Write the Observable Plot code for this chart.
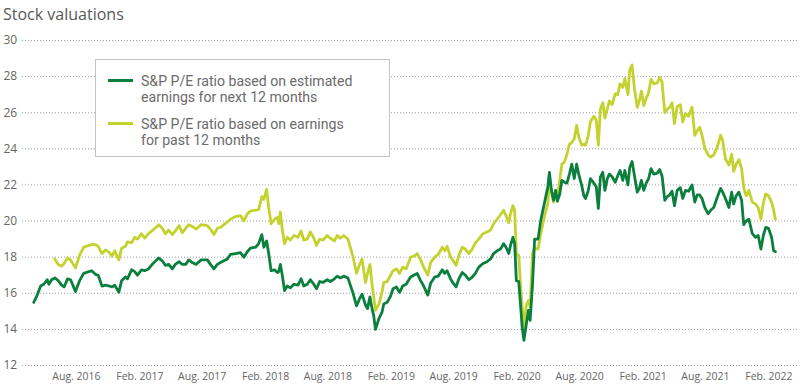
<!DOCTYPE html>
<html><head><meta charset="utf-8">
<script src="https://cdn.jsdelivr.net/npm/d3@7"></script>
<script src="https://cdn.jsdelivr.net/npm/@observablehq/plot@0.6"></script>
<style>
body{margin:0;background:#fff;font-family:"Open Sans",sans-serif;}
#chart{position:relative;width:800px;height:385px;overflow:hidden;}
#chart svg{position:absolute;left:0;top:0;}
#title{position:absolute;left:3px;top:4px;font-size:16px;line-height:20px;color:#58595b;z-index:2;}
#legend{position:absolute;left:95px;top:59px;width:295px;height:98px;box-sizing:border-box;border:1px solid #c4c4c4;background:#fff;z-index:2;}
.sw{position:absolute;left:12px;width:25px;height:3px;}
.lt{position:absolute;left:45px;height:16px;font-family:Roboto,sans-serif;font-size:14.1px;line-height:16px;color:#6b6b6b;white-space:nowrap;}
</style></head><body>
<div id="chart"><div id="title">Stock valuations</div><div id="legend"></div></div>
<script>
const dayOffsets = [89,99,109,118,128,133,141,150,160,170,177,187,196,210,222,234,249,257,268,276,287,297,309,316,324,336,344,355,361,373,382,390,402,411,422,435,452,462,471,481,491,500,511,520,530,539,549,560,575,593,602,612,
622,631,641,651,660,675,689,699,709,718,733,742,751,757,765,771,778,788,796,800,805,810,817,825,834,844,856,865,873,883,892,902,910,919,929,941,950,962,970,979,989,1001,1008,1016,1026,1035,1042,1052,1058,1065,1071,1076,1081,1091,1100,1105,1115,1125,1132,1142,1151,
1160,1170,1183,1192,1202,1212,1221,1233,1241,1253,1263,1275,1282,1289,1299,1305,1315,1323,1333,1342,1352,1362,1371,1381,1393,1405,1415,1424,1434,1444,1453,1460,1468,1473,1480,1485,1490,1497,1502,1507,1512,1519,1525,1530,1537,1543,1553,1561,1571,1581,1586,1592,1598,1604,1609,1616,1622,1629,1637,1644,1651,1658,1665,1671,1680,1686,1691,1699,1705,
1715,1722,1728,1734,1741,1747,1754,1760,1768,1777,1784,1791,1799,1805,1814,1819,1826,1833,1841,1847,1853,1860,1867,1874,1881,1889,1899,1906,1913,1921,1928,1935,1942,1949,1957,1966,1973,1981,1990,2000,2008,2015,2022,2029,2037,2047,2054,2063,2073,2083,2089,2097,2107,2115,2121,2128,2136,2144,2150,2157,2165,2175,2184,2192,2200,2207,2214,2222,2231,2237,2242];

// S&P P/E based on estimated earnings for next 12 months
const forwardPE = [15.5,15.9,16.4,16.5,16.75,16.5,16.75,16.85,16.7,16.45,16.35,16.8,16.75,16.1,16.7,17.1,17.2,17.25,17.05,17.0,16.4,16.45,16.4,16.35,16.45,16.05,16.7,16.9,16.8,17.3,17.2,17.0,17.3,17.25,17.35,17.65,17.95,17.8,17.55,17.6,17.35,17.6,17.75,17.6,17.6,17.85,17.7,17.6,17.85,17.85,17.6,17.35,
17.6,17.7,17.8,17.9,18.15,18.2,18.25,18.0,18.3,18.5,18.55,18.75,19.25,18.55,18.9,18.2,17.25,17.3,17.15,17.2,17.6,17.05,16.15,16.4,16.3,16.5,16.45,16.8,16.4,16.5,16.75,16.5,16.25,16.65,16.6,16.75,16.65,16.8,16.95,16.85,16.95,16.85,16.45,16.0,15.3,15.7,15.95,15.35,15.15,15.8,15.15,14.75,14.0,14.6,14.95,15.4,15.5,15.85,16.25,16.35,16.05,
16.4,16.5,16.9,17.0,17.1,16.7,16.4,15.9,16.55,16.9,16.95,17.3,17.1,17.25,16.8,16.6,16.35,16.8,17.15,17.0,16.75,16.9,17.1,17.45,17.65,17.75,17.9,18.2,18.35,18.45,18.75,18.55,18.2,18.65,19.1,18.75,16.7,16.65,15.4,14.1,13.4,14.3,15.05,14.5,16.5,19.0,19.0,20.05,20.95,21.85,22.7,21.7,21.15,21.7,21.1,21.5,22.25,22.15,22.1,22.6,23.15,22.35,23.15,22.6,21.95,21.4,21.25,21.7,22.35,
22.1,21.9,20.7,22.45,22.7,21.7,22.35,22.6,22.45,22.15,22.5,22.8,22.25,22.8,22.0,22.95,23.3,22.5,21.6,21.8,22.25,21.7,22.1,22.35,22.9,22.6,22.65,22.85,22.5,21.15,21.35,21.45,21.65,20.85,21.7,21.85,21.25,21.7,21.65,22.0,21.05,21.45,21.45,21.25,20.75,20.4,20.6,20.75,21.3,21.8,21.6,21.25,20.75,21.6,20.95,21.4,21.6,21.15,19.8,20.0,20.1,19.3,19.1,19.2,18.45,19.2,19.65,19.6,19.1,18.35,18.3];

// S&P P/E based on earnings for past 12 months
const trailingPE = [null,null,null,null,null,null,null,17.9,17.6,17.5,17.65,17.95,17.85,17.4,18.1,18.55,18.65,18.7,18.7,18.6,18.2,18.4,18.25,18.05,18.35,17.85,18.5,18.6,18.85,18.8,19.1,19.0,19.3,19.05,19.3,19.5,19.8,19.6,19.3,19.5,19.25,19.45,19.75,19.35,19.6,19.8,19.7,19.55,19.8,19.75,19.55,19.25,
19.6,19.65,19.8,19.95,20.1,20.25,20.3,20.0,20.4,20.55,20.6,20.65,21.35,21.2,21.75,20.75,19.85,20.1,20.2,19.85,20.5,19.6,18.75,19.1,18.95,19.2,19.1,19.45,18.95,19.0,19.4,19.05,18.65,19.0,18.95,19.2,19.05,18.9,19.2,19.05,19.2,19.0,18.55,18.0,17.1,17.6,17.9,16.6,17.1,17.6,16.5,15.8,15.05,15.4,16.05,16.6,16.65,17.0,17.25,17.35,17.1,
17.45,17.35,18.0,18.05,18.2,17.85,17.45,17.0,17.7,18.0,18.15,18.55,18.35,18.6,18.0,17.85,17.55,18.1,18.55,18.45,18.2,18.45,18.8,19.0,19.3,19.4,19.5,19.85,20.1,20.35,20.6,20.3,19.9,20.4,20.85,20.6,18.2,18.1,16.5,15.25,14.1,15.35,15.6,15.25,18.2,18.5,18.45,19.3,20.2,20.95,22.15,21.6,21.05,21.7,21.35,22.25,23.15,23.25,23.7,24.25,24.35,24.55,25.3,24.65,24.2,24.25,24.2,24.75,25.5,
25.8,25.6,24.2,26.2,26.55,25.7,26.2,26.65,26.45,27.05,27.0,27.6,27.4,27.9,27.0,28.35,28.65,27.3,26.3,26.65,27.2,26.4,26.8,27.1,27.85,27.6,27.65,27.95,27.7,26.0,26.2,26.3,26.55,25.4,26.35,26.45,25.5,25.95,25.8,26.3,24.75,25.0,25.2,24.75,24.05,23.65,23.55,23.65,24.1,24.75,24.45,23.45,23.1,23.7,22.75,23.15,23.4,22.9,21.85,21.4,21.7,21.05,20.95,20.75,20.1,21.0,21.5,21.4,21.05,20.6,20.1];

const xTickDates = ["2016-08-01","2017-02-01","2017-08-01","2018-02-01","2018-08-01","2019-02-01","2019-08-01","2020-02-01","2020-08-01","2021-02-01","2021-08-01","2022-02-01"];
const yTicks = [12,14,16,18,20,22,24,26,28,30];
const seriesLabels = [
  ["S&P P/E ratio based on estimated", "earnings for next 12 months"],
  ["S&P P/E ratio based on earnings", "for past 12 months"]
];
const colors = ["#0b7f3d", "#c3d22e"];

const base = Date.UTC(2016, 0, 1);
const toDate = d => new Date(base + d * 864e5);
const forwardRows = dayOffsets.map((d, i) => ({date: toDate(d), value: forwardPE[i]}));
const trailingRows = dayOffsets.map((d, i) => ({date: toDate(d), value: trailingPE[i]})).filter(r => r.value != null);

const plot = Plot.plot({
  width: 800, height: 385,
  marginTop: 40, marginBottom: 20, marginLeft: 22, marginRight: 3,
  style: {fontFamily: '"Open Sans", sans-serif', background: "transparent", overflow: "visible"},
  x: {type: "utc", domain: [toDate(56.3), toDate(2306.2)]},
  y: {domain: [12, 30]},
  marks: [
    Plot.gridY(yTicks, {stroke: "#9c9c9c", strokeOpacity: 1, strokeWidth: 1, strokeDasharray: "1,2"}),
    Plot.axisY(yTicks, {tickSize: 0, tickPadding: 3, textAnchor: "start", dx: -16, fontSize: 12, color: "#666", label: null}),
    Plot.axisX(xTickDates.map(s => new Date(s)), {tickSize: 0, tickPadding: 7, tickFormat: d3.utcFormat("%b. %Y"), fontSize: 10.5, color: "#666", label: null}),
    Plot.line(trailingRows, {x: "date", y: "value", stroke: colors[1], strokeWidth: 2.8}),
    Plot.line(forwardRows, {x: "date", y: "value", stroke: colors[0], strokeWidth: 2.8})
  ]
});
document.getElementById("chart").appendChild(plot);

const legend = document.getElementById("legend");
const swTops = [19, 62];
seriesLabels.forEach((lines, i) => {
  const sw = document.createElement("div");
  sw.className = "sw"; sw.style.top = swTops[i] + "px"; sw.style.background = colors[i];
  legend.appendChild(sw);
  lines.forEach((line, j) => {
    const t = document.createElement("div");
    t.className = "lt";
    t.style.top = (swTops[i] - 6.5 + j * 16.9) + "px";
    t.textContent = line;
    legend.appendChild(t);
  });
});
</script>
</body></html>
